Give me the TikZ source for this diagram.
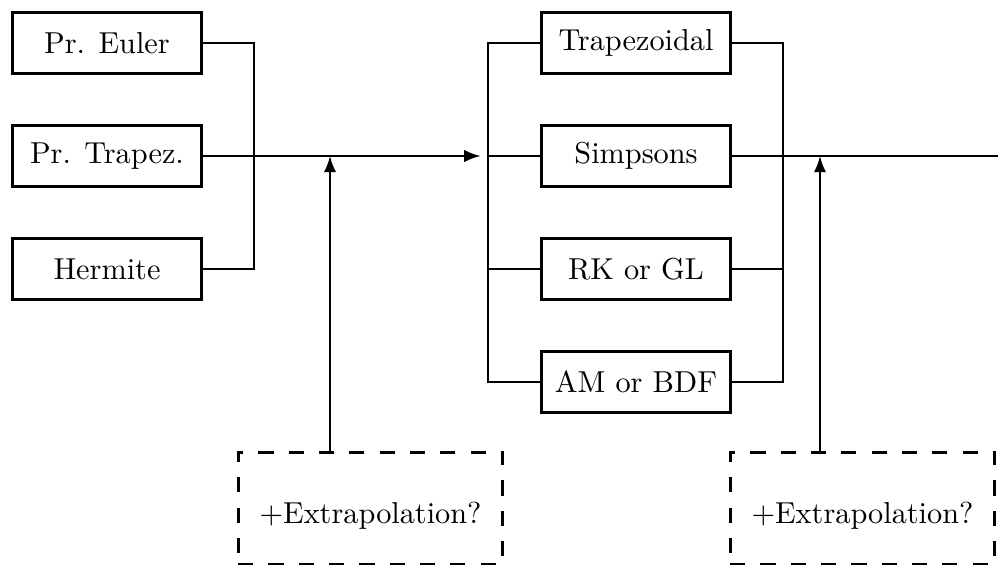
\documentclass[tikz,border=0pt]{standalone}
\usetikzlibrary{arrows}
\tikzset{
  methodbox/.style={draw, line width=0.95pt, minimum width=2.2cm, minimum height=0.7cm},
  extrabox/.style={draw, line width=1pt, dash pattern=on 5pt off 5pt, text height=12pt, minimum width=3.07cm, minimum height=1.3cm},
  link/.style={line width=0.85pt}
}
\begin{document}
\begin{tikzpicture}
\useasboundingbox (0,0) rectangle (11.577,-6.554);
% draw predictor boxes
\node[methodbox] (euler) at (1.241,-0.499) {Pr. Euler};
\node[methodbox] (ptrap) at (1.241,-1.810) {Pr. Trapez.};
\node[methodbox] (herm)  at (1.241,-3.120) {Hermite};

% draw corrector boxes
\node[methodbox] (trapz) at (7.378,-0.499) {Trapezoidal};
\node[methodbox] (simp)  at (7.378,-1.810) {Simpsons};
\node[methodbox] (rkgl)  at (7.378,-3.120) {RK or GL};
\node[methodbox] (ambdf) at (7.378,-4.431) {AM or BDF};

% draw extrapolation boxes
\node[extrabox] (extra1) at (4.298,-5.895) {+Extrapolation?};
\node[extrabox] (extra2) at (10.005,-5.895) {+Extrapolation?};

% junction points
\coordinate (jleft)  at (2.946,-1.810);
\coordinate (jmid)   at (5.661,-1.810);
\coordinate (jright) at (9.083,-1.810);
\coordinate (out)    at (11.577,-1.810);
\coordinate (tap1)   at (3.828,-1.810);
\coordinate (tap2)   at (9.512,-1.810);

% draw predictor links
\draw[link] (euler.east) -| (jleft) |- (herm.east);
\draw[link, ->, >=latex, shorten >=2.5pt] (ptrap.east) -- (jmid);

% draw corrector links
\draw[link] (trapz.west) -| (jmid) |- (ambdf.west);
\draw[link] (jmid) -- (simp.west);
\draw[link] (rkgl.west -| jmid) -- (rkgl.west);
\draw[link] (trapz.east) -| (jright) |- (ambdf.east);
\draw[link] (rkgl.east) -- (rkgl.east -| jright);
\draw[link] (simp.east) -- (out);

% draw extrapolation arrows
\draw[link, ->, >=latex] (extra1.north -| tap1) -- (tap1);
\draw[link, ->, >=latex] (extra2.north -| tap2) -- (tap2);
\end{tikzpicture}
\end{document}
